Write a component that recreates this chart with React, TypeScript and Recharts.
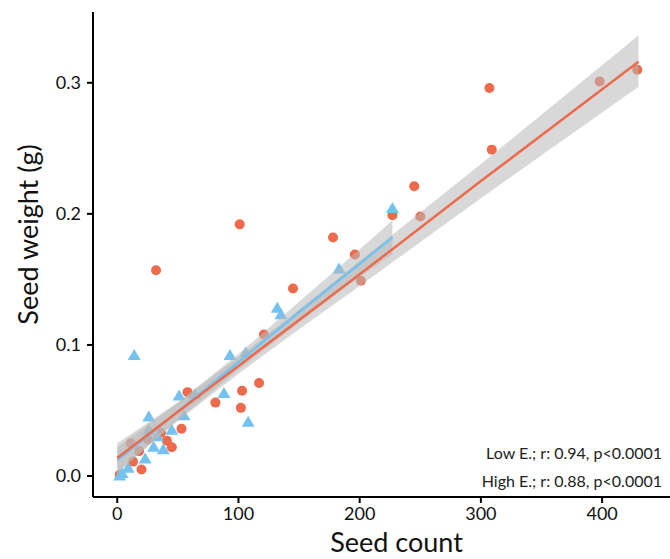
import { Area, ComposedChart, Customized, Line, Scatter, XAxis, YAxis } from "recharts";

// fitted lines + confidence bands
const BAND_X = [0, 50, 100, 150, 200, 227, 300, 430];
const HIGH_FIT = [0.0137, 0.049, 0.084, 0.119, 0.154, 0.173, 0.225, 0.316];
const HIGH_LO = [0.003, 0.042, 0.078, 0.112, 0.145, 0.163, 0.212, 0.297];
const HIGH_HI = [0.025, 0.056, 0.091, 0.127, 0.164, 0.184, 0.238, 0.336];
const LOW_FIT = [0.012, 0.049, 0.087, 0.125, 0.162, 0.182, null, null];
const LOW_LO = [0.002, 0.043, 0.081, 0.117, 0.152, 0.169, null, null];
const LOW_HI = [0.022, 0.056, 0.093, 0.133, 0.173, 0.195, null, null];

// High E. (red circles): [seed count, seed weight]
const HIGH_POINTS = [
  [398, 0.301], [429, 0.31], [307, 0.296], [309, 0.249], [245, 0.221],
  [227, 0.199], [250, 0.198], [178, 0.182], [196, 0.169], [201, 0.149],
  [145, 0.143], [101, 0.192], [32, 0.157], [121, 0.108], [117, 0.071],
  [103, 0.065], [81, 0.056], [102, 0.052], [58, 0.064], [53, 0.036],
  [41, 0.027], [45, 0.022], [36, 0.033], [25, 0.028], [11, 0.025],
  [18, 0.019], [13, 0.011], [20, 0.005], [2, 0.001],
];

// Low E. (blue triangles)
const LOW_POINTS = [
  [227, 0.204], [183, 0.158], [132, 0.128], [135, 0.123], [93, 0.092],
  [14, 0.092], [106, 0.094], [88, 0.063], [108, 0.041], [51, 0.061],
  [64, 0.062], [26, 0.045], [55, 0.046], [45, 0.035], [26, 0.035],
  [33, 0.03], [30, 0.022], [38, 0.02], [23, 0.013], [9, 0.006],
  [4, 0.002], [2, 0.0],
];

const X_TICKS = [0, 100, 200, 300, 400];
const Y_TICKS = [0, 0.1, 0.2, 0.3];
const NOTES = ["Low E.; r: 0.94, p<0.0001", "High E.; r: 0.88, p<0.0001"];

const RED = "#ee6a4c";
const BLUE = "#74c2f0";
const FONT = "Lato, 'Open Sans', sans-serif";

const bands = BAND_X.map((x, i) => ({
  x,
  highFit: HIGH_FIT[i],
  highBand: [HIGH_LO[i], HIGH_HI[i]],
  lowFit: LOW_FIT[i],
  lowBand: LOW_LO[i] == null ? null : [LOW_LO[i], LOW_HI[i]],
}));

const highPts = HIGH_POINTS.map(([x, y]) => ({ x, y }));
const lowPts = LOW_POINTS.map(([x, y]) => ({ x, y }));

const Dot = (p: any) => <circle cx={p.cx} cy={p.cy} r={5} fill={RED} />;
const Tri = (p: any) => (
  <polygon
    points={`${p.cx},${p.cy - 6.5} ${p.cx - 6.5},${p.cy + 4.5} ${p.cx + 6.5},${p.cy + 4.5}`}
    fill={BLUE}
  />
);

const Notes = () => (
  <g>
    {NOTES.map((t, i) => (
      <text key={t} x={662} y={459 + i * 28} textAnchor="end" fontSize={16} fill="#222" fontFamily={FONT}>
        {t}
      </text>
    ))}
  </g>
);

export default function App() {
  return (
    <div style={{ position: "absolute", left: 0, top: 0, background: "#fff" }}>
      <ComposedChart width={670} height={559} data={bands} margin={{ top: 12, right: 0, bottom: 0, left: 0 }}>
        <XAxis
          dataKey="x"
          type="number"
          domain={[-20, 456]}
          ticks={X_TICKS}
          allowDataOverflow
          height={62}
          axisLine={{ stroke: "#000", strokeWidth: 2 }}
          tickLine={{ stroke: "#000", strokeWidth: 2 }}
          tickSize={6}
          tickMargin={4}
          tick={{ fill: "#111", fontSize: 18, fontFamily: FONT }}
          label={{ value: "Seed count", position: "insideBottom", offset: 7, fontSize: 27, fill: "#111", fontFamily: FONT, dx: 15 }}
        />
        <YAxis
          type="number"
          domain={[-0.016, 0.354]}
          ticks={Y_TICKS}
          allowDataOverflow
          width={93}
          axisLine={{ stroke: "#000", strokeWidth: 2 }}
          tickLine={{ stroke: "#000", strokeWidth: 2 }}
          tickSize={6}
          tickMargin={6}
          tickFormatter={(v: number) => v.toFixed(1)}
          tick={{ fill: "#111", fontSize: 18, fontFamily: FONT }}
          label={{
            content: (p: any) => {
              const vb = p.viewBox;
              const cx = vb.x + 27;
              const cy = vb.y + vb.height / 2 - 20;
              return (
                <text x={cx} y={cy} transform={`rotate(-90 ${cx} ${cy})`} textAnchor="middle" dominantBaseline="central" fontSize={27} fill="#111" fontFamily={FONT}>
                  Seed weight (g)
                </text>
              );
            },
          }}
        />
        <Scatter data={highPts} dataKey="y" shape={Dot} zIndex={100} isAnimationActive={false} />
        <Scatter data={lowPts} dataKey="y" shape={Tri} zIndex={100} isAnimationActive={false} />
        <Area dataKey="highBand" type="linear" stroke="none" fill="#b8b8b8" fillOpacity={0.55} zIndex={500} isAnimationActive={false} />
        <Area dataKey="lowBand" type="linear" stroke="none" fill="#b8b8b8" fillOpacity={0.55} zIndex={500} isAnimationActive={false} />
        <Line dataKey="lowFit" type="linear" stroke={BLUE} strokeWidth={2.5} dot={false} zIndex={600} isAnimationActive={false} />
        <Line dataKey="highFit" type="linear" stroke={RED} strokeWidth={2.5} dot={false} zIndex={600} isAnimationActive={false} />
        <Customized component={Notes} />
      </ComposedChart>
    </div>
  );
}
